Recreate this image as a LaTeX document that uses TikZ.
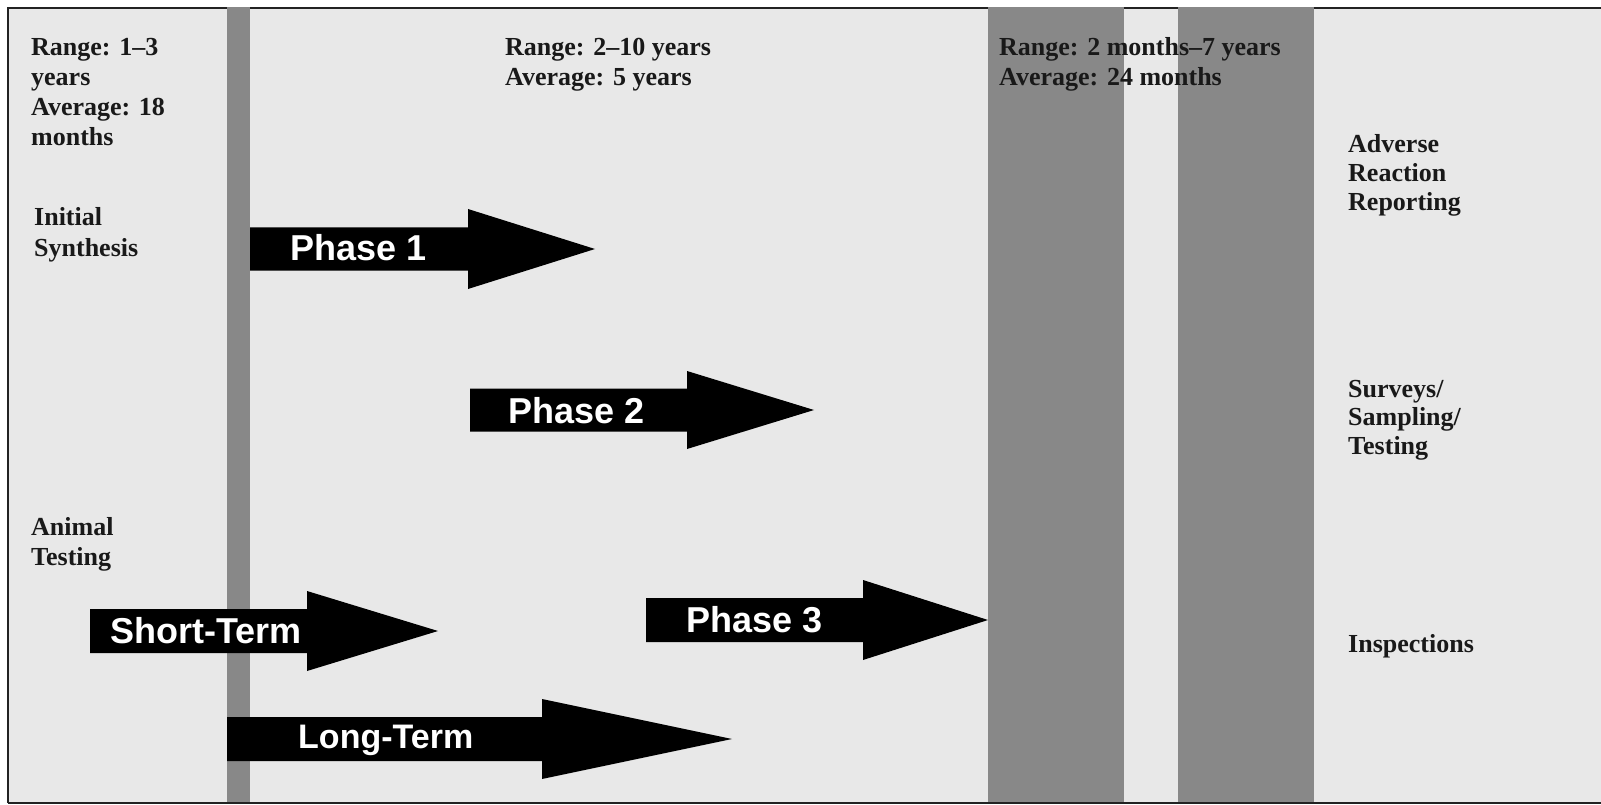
\documentclass[tikz,border=0pt]{standalone}
\usepackage{fontspec}
\setmainfont{Liberation Serif}
\newfontfamily\arrowfont{Liberation Sans}
\definecolor{bgray}{HTML}{E8E8E8}
\definecolor{barg}{HTML}{888888}
\definecolor{frameg}{HTML}{222222}
\newcommand\bigarr[6]{%
  \fill[black] (#1,#4-#5) -- (#2,#4-#5) -- (#2,#4-#6) -- (#3,#4) -- (#2,#4+#6) -- (#2,#4+#5) -- (#1,#4+#5) -- cycle;}
\begin{document}
\begin{tikzpicture}[x=1pt,y=-1pt,
  lbl/.style={inner sep=0pt, anchor=base west, align=left, text=black!90,
    font=\bfseries\fontsize{26}{30}\selectfont},
  arrlbl/.style={inner sep=0pt, anchor=base west, text=white,
    font=\arrowfont\bfseries\fontsize{36}{36}\selectfont},
  bar/.style={fill=barg},
  frame/.style={draw=frameg, line width=2.5pt}]
\useasboundingbox (0,0) rectangle (1601,805);
% background
\fill[bgray] (8,8) rectangle (1601,803);
\draw[frame] (8,803) -- (8,8) -- (1601,8);
% bars
\fill[bar] (227,7) rectangle (250,803);
\fill[bar] (988,7) rectangle (1124,803);
\fill[bar] (1178,7) rectangle (1314,803);
\draw[frame] (8,803) -- (1601,803);
% arrows
\bigarr{250}{468}{595}{249}{21.5}{40}
\bigarr{470}{687}{814}{410}{21.5}{39}
\bigarr{646}{863}{988}{620}{22}{40}
\bigarr{90}{307}{438}{631}{22}{40}
\bigarr{227}{542}{732}{739}{22}{40}
% arrow labels
\node[arrlbl] (p1) at (290,260) {Phase 1};
\node[arrlbl] (p2) at (508,423) {Phase 2};
\node[arrlbl] (p3) at (686,632) {Phase 3};
\node[arrlbl] (st) at (110,643) {Short-Term};
\node[arrlbl, font=\arrowfont\bfseries\fontsize{34}{34}\selectfont] (lt) at (298,748) {Long-Term};
% texts (base anchor = baseline of the last line)
\node[lbl] (r1) at (31,146) {Range: 1–3\\years\\Average: 18\\months};
\node[lbl, font=\bfseries\fontsize{26}{32}\selectfont] (is) at (34,257) {Initial\\Synthesis};
\node[lbl] (at) at (31,565) {Animal\\Testing};
\node[lbl] (r2) at (505,86) {Range: 2–10 years\\Average: 5 years};
\node[lbl] (r3) at (999,86) {Range: 2 months–7 years\\Average: 24 months};
\node[lbl, font=\bfseries\fontsize{26}{29}\selectfont] (ad) at (1348,211) {Adverse\\Reaction\\Reporting};
\node[lbl, font=\bfseries\fontsize{26}{28.5}\selectfont] (sv) at (1348,454) {Surveys/\\Sampling/\\Testing};
\node[lbl] (in) at (1348,652) {Inspections};
\end{tikzpicture}
\end{document}
